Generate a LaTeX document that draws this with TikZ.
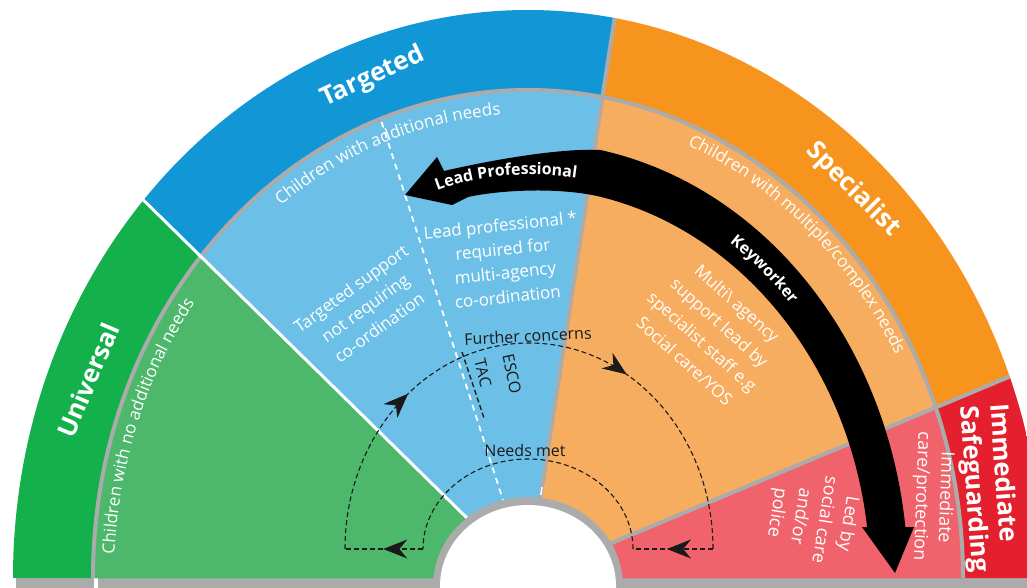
\documentclass[tikz,border=0pt]{standalone}
\usepackage{fontspec}
\setmainfont{Open Sans}
\usetikzlibrary{arrows.meta,decorations.markings,decorations.text}
\definecolor{ugreen}{RGB}{19,176,75}
\definecolor{ugreenL}{RGB}{77,184,107}
\definecolor{tblue}{RGB}{17,151,213}
\definecolor{tblueL}{RGB}{108,192,231}
\definecolor{sorange}{RGB}{247,148,30}
\definecolor{sorangeL}{RGB}{247,173,95}
\definecolor{ired}{RGB}{229,32,46}
\definecolor{iredL}{RGB}{241,99,108}
\definecolor{rimgrey}{RGB}{171,171,171}
\definecolor{darktext}{RGB}{26,26,26}
\newcommand\subfont{\fontsize{17}{24}\selectfont}
\newcommand\bigsubfont{\fontsize{18}{24}\selectfont}
\newcommand\titlefont{\bfseries\fontsize{25.5}{30}\selectfont}
\newcommand\arrfont{\bfseries\fontsize{16}{19}\selectfont}
\newcommand\loopfont{\fontsize{16}{19}\selectfont}
\tikzset{
  sub/.style={text=white, font=\subfont, align=center, inner sep=0pt},
  subbig/.style={text=white, font=\bigsubfont, align=center, inner sep=0pt},
  title/.style={text=white, font=\titlefont, align=center, inner sep=0pt},
  looptext/.style={text=darktext, font=\loopfont, inner sep=0pt},
  divider/.style={draw=rimgrey, line width=4pt},
  whitediv/.style={draw=white, line width=3pt},
  loopline/.style={draw=darktext, line width=1.1pt, dash pattern=on 5pt off 3pt},
  tipat/.style={postaction={decorate}, decoration={markings, mark=at position #1 with {\arrow{Stealth[length=24pt,width=19pt]}}}},
  curvedsub/.style={decorate, decoration={text along path, text align=center, text color=white, text={|\subfont|#1}}},
  curvedarr/.style={decorate, decoration={text along path, text align=center, text color=white, text={|\arrfont|#1}}},
}
\begin{document}
\begin{tikzpicture}[x=1pt,y=-1pt]
\useasboundingbox (0,0) rectangle (1027,588);
\clip (0,0) rectangle (1027,588);
% bottom shadow
\fill[rimgrey] (16,578) rectangle (1027,588);
\fill[white] (94,578) rectangle (98,588);
\begin{scope}[shift={(528,578)}]
  % outer band
  \begin{scope}
    \clip (-515,0) arc[start angle=-180,end angle=0,x radius=515,y radius=568] -- cycle;
    \fill[ugreen] (0,0) -- (-180:1200) -- (-135.5:1200) -- cycle;
    \fill[tblue] (0,0) -- (-135.5:1200) -- (-81.2:1200) -- cycle;
    \fill[sorange] (0,0) -- (-81.2:1200) -- (-22.7:1200) -- cycle;
    \fill[ired] (0,0) -- (-22.7:1200) -- (0:1200) -- cycle;
    % inner band
    \begin{scope}
      \clip (-435,0) arc[start angle=-180,end angle=0,x radius=435,y radius=488] -- cycle;
      \fill[ugreenL] (0,0) -- (-180:1200) -- (-135.5:1200) -- cycle;
      \fill[tblueL] (0,0) -- (-135.5:1200) -- (-81.2:1200) -- cycle;
      \fill[sorangeL] (0,0) -- (-81.2:1200) -- (-22.7:1200) -- cycle;
      \fill[iredL] (0,0) -- (-22.7:1200) -- (0:1200) -- cycle;
      \draw[white, line width=1.8pt, dash pattern=on 6pt off 5pt] (0,0) -- (-107.8:1200);
    \end{scope}
    \draw[divider] (-435,0) arc[start angle=-180,end angle=0,x radius=435,y radius=488];
    \draw[whitediv] (0,0) -- (-135.5:1200);
    \draw[divider] (0,0) -- (-81.2:1200);
    \draw[divider] (0,0) -- (-22.7:1200);
  \end{scope}
  % hole
  \fill[rimgrey] (-95,10) -- (-95,8) arc[start angle=-180,end angle=0,x radius=95,y radius=89] -- (95,10) -- cycle;
  \fill[white] (-88,10) -- (-88,8) arc[start angle=-180,end angle=0,x radius=88,y radius=81] -- (88,10) -- cycle;
  \draw[white, line width=1.5pt] (-81.2:84) -- (-81.2:92);
  % curved sub labels
  \path[curvedsub={Children with no additional needs}] (-199.7:414 and 464) arc[start angle=-199.7,end angle=-119.7,x radius=414,y radius=464];
  \path[curvedsub={Children with additional needs}] (-149.5:414 and 464) arc[start angle=-149.5,end angle=-69.5,x radius=414,y radius=464];
  \path[curvedsub={Children with multiple/complex needs}] (-89:418 and 468) arc[start angle=-89,end angle=-9,x radius=418,y radius=468];
  % black arrows
  \fill[black] (-123,-383) -- (-91,-421) -- (-84,-407)
     .. controls (-28,-420) and (37,-430) .. (72.5,-428.0)
     arc[start angle=-79,end angle=-6.7,x radius=380,y radius=436]
     -- (386,-51) -- (367,-5) -- (334,-51) -- (339.1,-51)
     arc[start angle=-7.51,end angle=-78,x radius=342,y radius=390]
     .. controls (30,-391) and (-28,-388) .. (-60,-381)
     -- (-76,-373) -- cycle;
  \path[curvedarr={Keyworker}] (-75:355 and 407.5) arc[start angle=-75,end angle=-24,x radius=355,y radius=407.5];
\end{scope}
\path[curvedarr={Lead Professional}] (420,198) .. controls (462,176) and (530,168) .. (595,181);
% titles
\node[title, rotate=67] (universal) at (88,380) {Universal};
\node[title, rotate=25] (targeted) at (373,77) {Targeted};
\node[title, rotate=-45] (specialist) at (853,190) {Specialist};
\node[title, rotate=-86, align=left] (immediate) at (988,488) {Immediate\\Safeguarding};
% inner texts
\node[sub, rotate=36] (targsupport) at (365,308) {Targeted support\\not requiring\\co-ordination};
\node[sub, rotate=6] (leadprof) at (504,261) {Lead professional *\\required for\\multi-agency\\co-ordination};
\node[sub, rotate=-42, font=\fontsize{17}{26}\selectfont] (multiagency) at (711,332) {Multi\textbackslash{} agency\\support lead by\\specialist staff e.g\\Social care/YOS};
\node[subbig, rotate=-99] (ledby) at (812,518) {Led by\\social care\\and/or\\police};
\node[subbig, rotate=-92] (immcare) at (933,497) {Immediate\\care/protection};
% loop
\draw[loopline, tipat=0.28, postaction={tipat=0.67}] (345,549) arc[start angle=-180,end angle=0,x radius=184,y radius=206];
\draw[loopline, tipat=0.575] (713,549) -- (633,549);
\draw[loopline] (633,549) arc[start angle=0,end angle=-180,x radius=105,y radius=90];
\draw[loopline, tipat=0.51] (423,549) -- (345,549);
\draw[loopline, line width=1.4pt] (462,352) -- (484,418);
\node[looptext, rotate=3] (further) at (528,336) {Further concerns};
\node[looptext] (needsmet) at (525,450) {Needs met};
\node[looptext, rotate=-76] (tac) at (483,373) {TAC};
\node[looptext, rotate=-78] (esco) at (512,374) {ESCO};
\end{tikzpicture}
\end{document}
